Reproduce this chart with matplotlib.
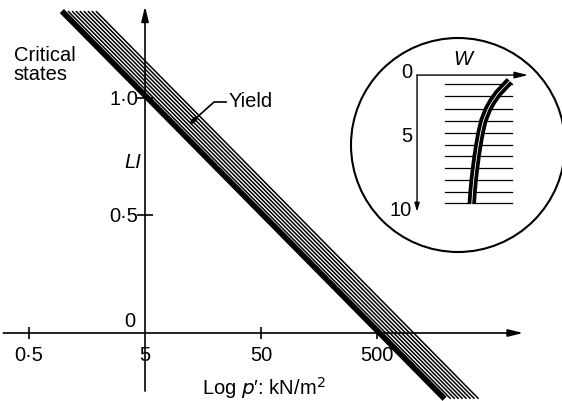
import numpy as np
import matplotlib
matplotlib.use("Agg")
import matplotlib.pyplot as plt
from matplotlib.patches import Ellipse

plt.rcParams['font.family'] = ['Liberation Sans', 'DejaVu Sans']

# ---------------- data ----------------
slope = -0.5                      # change of LI per decade of p'
critical_p0 = 527.0               # p' (kN/m2) where critical-state line reaches LI = 0
yield_p0 = [595, 645, 697, 753, 815, 883, 955, 1035]   # yield lines, LI = 0 intercepts
band_li_range = (1.37, -0.28)     # LI extent of drawn band

x_ticks = [0.5, 5, 50, 500]
x_tick_labels = ['0·5', '5', '50', '500']
y_ticks = [0, 0.5, 1.0]
y_tick_labels = ['0', '0·5', '1·0']

# inset: water content profile with depth
inset_depth = [0.45, 0.9, 1.4, 2.0, 2.6, 3.5, 4.45, 5.4, 6.3, 7.2, 8.1, 9.0, 9.9]
inset_w = [8.35, 7.85, 7.3, 6.8, 6.4, 5.98, 5.72, 5.52, 5.36, 5.22, 5.1, 5.0, 4.93]
layer_depths = [0.7, 1.64, 2.62, 3.52, 4.46, 5.38, 6.25, 7.15, 8.08, 8.98, 9.87]
inset_ticks = [0, 5, 10]

# ---------------- figure ----------------
fig = plt.figure(figsize=(5.62, 4.02), dpi=100)
ax = fig.add_axes([0, 0, 1, 1])
ax.set_xscale('log')
ax.set_xlim(0.281, 19680)
ax.set_ylim(-0.2894, 1.4213)
ax.axis('off')

FS = 14.5

def line_p(p0, li):
    return p0 * 10 ** (li / slope)

li_pts = np.array(band_li_range)
for p0 in yield_p0:
    ax.plot(line_p(p0, li_pts), li_pts, color='k', lw=1.1, solid_capstyle='butt')
ax.plot(line_p(critical_p0, li_pts), li_pts, color='k', lw=4.2, solid_capstyle='butt')

# axes with arrows
ax.annotate('', xy=(9100, 0), xytext=(0.30, 0),
            arrowprops=dict(arrowstyle='-|>,head_length=0.9,head_width=0.22',
                            lw=1.2, color='k', shrinkA=0, shrinkB=0))
ax.annotate('', xy=(5, 1.39), xytext=(5, -0.247),
            arrowprops=dict(arrowstyle='-|>,head_length=0.9,head_width=0.22',
                            lw=1.2, color='k', shrinkA=0, shrinkB=0))

# tick marks
for xt in x_ticks:
    if xt != 5:
        ax.plot([xt], [0], marker='|', ms=8.5, mew=1.2, color='k')
for yt in y_ticks[1:]:
    ax.plot([5], [yt], marker='_', ms=11, mew=1.2, color='k')

# tick labels
for xt, lab in zip(x_ticks, x_tick_labels):
    ax.annotate(lab, xy=(xt, 0), xytext=(0, -22), textcoords='offset pixels',
                ha='center', va='center', fontsize=FS)
for yt, lab in zip(y_ticks, y_tick_labels):
    if yt == 0:
        ax.annotate(lab, xy=(5, 0), xytext=(-15, 12), textcoords='offset pixels',
                    ha='center', va='center', fontsize=FS)
    else:
        ax.annotate(lab, xy=(5, yt), xytext=(-7, 0), textcoords='offset pixels',
                    ha='right', va='center', fontsize=FS)

# axis titles
ax.text(3.9, 0.728, 'LI', style='italic', fontsize=FS, ha='center', va='center')
ax.text(53, -0.232, "Log $p$′: kN/m$^2$", fontsize=FS, ha='center', va='center')
ax.text(0.37, 1.145, 'Critical\nstates', fontsize=FS, ha='left', va='center',
        linespacing=1.05)

# Yield label with leader
ax.text(26.5, 0.99, 'Yield', fontsize=FS, ha='left', va='center')
ax.plot([25.0, 19.7, 13.6], [0.983, 0.983, 0.912], color='k', lw=1.2)
ax.plot([13.6, 12.8], [0.912, 0.899], color='k', lw=3.0, solid_capstyle='round')

# ---------------- inset ----------------
ins = fig.add_axes([351 / 562, 1 - 253 / 402, 214 / 562, 214 / 402])
ins.set_xlim(-5.95, 13.33)
ins.set_ylim(13.6, -2.85)
ins.axis('off')
ins.add_patch(Ellipse((0.5, 0.5), 1, 1, transform=ins.transAxes, fill=False,
                      lw=1.5, color='k', clip_on=False))

ins.annotate('', xy=(10.0, 0), xytext=(0, 0),
             arrowprops=dict(arrowstyle='-|>,head_length=0.8,head_width=0.2',
                             lw=1.0, color='k', shrinkA=0, shrinkB=0))
ins.annotate('', xy=(0, 10.5), xytext=(0, 0),
             arrowprops=dict(arrowstyle='-|>,head_length=0.5,head_width=0.15',
                             lw=1.0, color='k', shrinkA=0, shrinkB=0))
for d in layer_depths:
    ins.plot([2.5, 8.6], [d, d], color='k', lw=0.9)
ins.plot(inset_w, inset_depth, color='k', lw=6.0, solid_capstyle='butt')
ins.plot(inset_w, inset_depth, color='w', lw=0.6)

for t in inset_ticks:
    ins.text(-0.45, t + (-0.25 if t == 0 else (-0.35 if t == 5 else 0.3)), str(t),
             fontsize=FS, ha='right', va='center')
ins.text(4.1, -1.25, 'W', style='italic', fontsize=FS, ha='center', va='center')

fig.savefig('out.png', dpi=100)
